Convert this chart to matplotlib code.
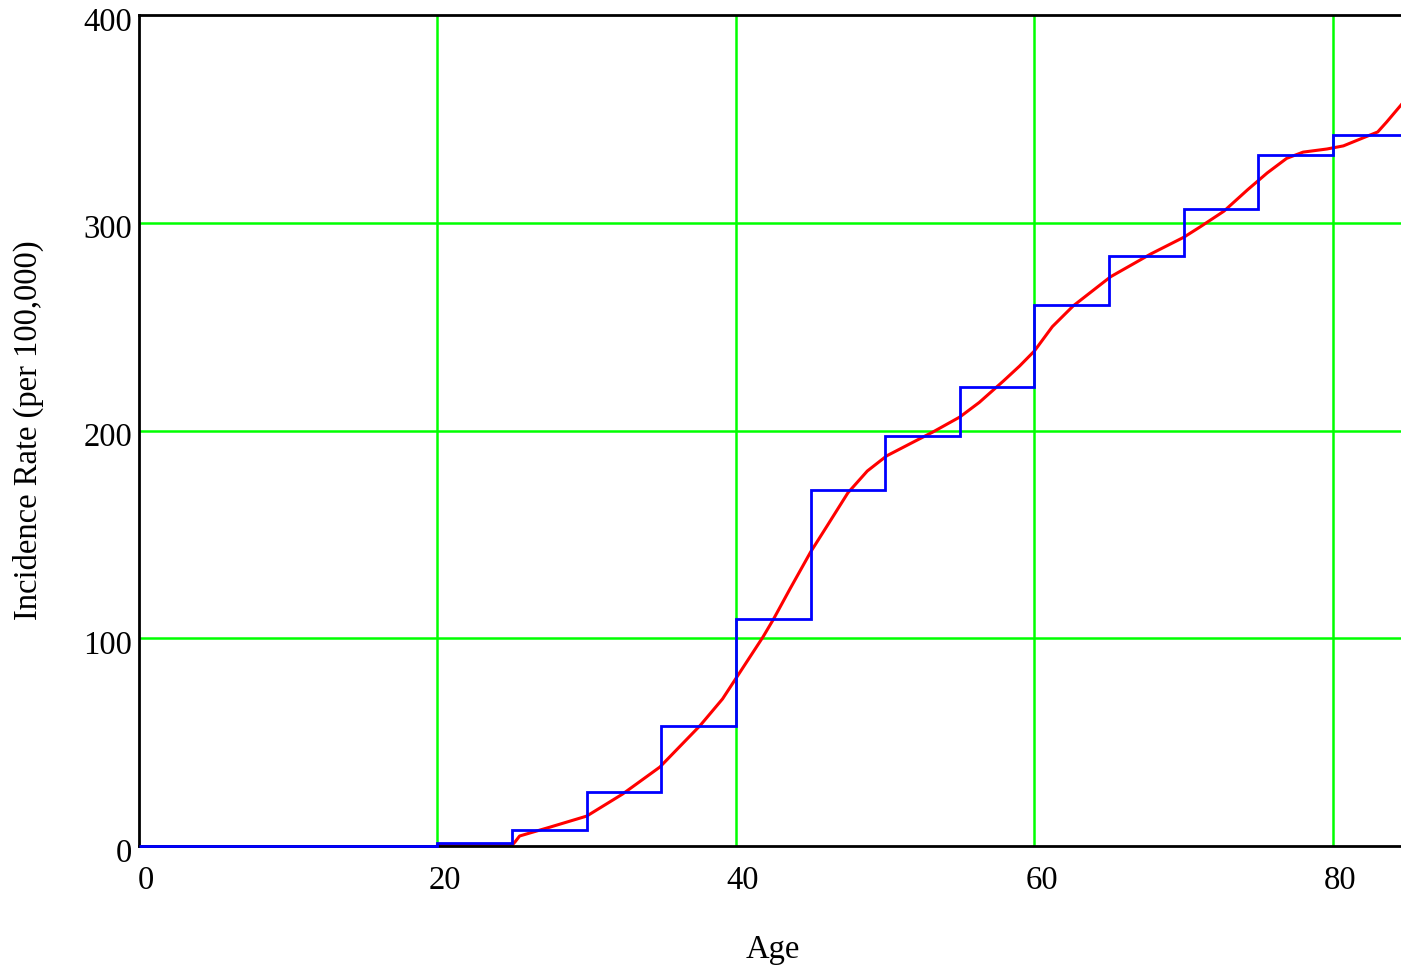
import matplotlib
matplotlib.use("Agg")
import matplotlib.pyplot as plt
import matplotlib.transforms as mtransforms

# Data
blue_edges = [0, 20, 25, 30, 35, 40, 45, 50, 55, 60, 65, 70, 75, 80, 85]
blue_vals = [0, 1.3, 7.7, 26.1, 57.9, 109.3, 171.4, 197.2, 220.8, 260.4, 284.2, 306.6, 332.8, 342.2]

red_age = [20, 25, 25.2, 25.5, 26.4, 27.5, 30, 32.4, 34.9, 37.6, 39.1, 40.1, 41.8, 42.5,
           43.6, 45, 46.1, 47.5, 48.8, 50.1, 51.9, 53.2, 55, 56.3, 57.9, 59, 60, 61.2, 62.6,
           65.1, 67.8, 70, 71.1, 72.7, 74.3, 75.6, 76.9, 78, 79.6, 80.7, 82, 83, 83.6, 84.6]
red_val = [0.4, 0.4, 2, 4.8, 6.7, 9, 14.4, 25, 38, 58, 70.8, 81.8, 100.5, 109,
           123.5, 141.5, 154, 170, 180.5, 187.8, 194.5, 199.3, 206.5, 213.5, 223.7, 231, 238.3, 250, 260,
           274, 285, 293, 298, 305.6, 316, 324, 331, 334, 335.5, 337, 340.8, 343.7, 348.5, 357]

x_ticks = [0, 20, 40, 60, 80]
y_ticks = [0, 100, 200, 300, 400]

W, H = 1401, 970
fig = plt.figure(figsize=(W / 100, H / 100), dpi=100)
ax = fig.add_axes([139 / W, (H - 847) / H, (W - 139) / W, (847 - 16) / H])

ax.set_xlim(0, 84.56)
ax.set_ylim(0, 400)

for gx in [20, 40, 60, 80]:
    ax.axvline(gx, color="#00ff00", lw=1.8, zorder=1)
for gy in [100, 200, 300]:
    ax.axhline(gy, color="#00ff00", lw=1.8, zorder=1)

ax.plot(red_age, red_val, color="#ff0000", lw=2.2, zorder=2, clip_on=False)
st = ax.stairs(blue_vals, blue_edges, baseline=None, color="#0000ff", lw=2.0, zorder=3)
st.set_clip_on(False)
ax.set_xlim(0, 84.56)

for s in ["left", "top", "bottom"]:
    ax.spines[s].set_color("black")
    ax.spines[s].set_linewidth(2.0)
ax.spines["right"].set_visible(False)

font = "Liberation Serif"
fs = 23.5
ax.set_xticks(x_ticks)
ax.set_yticks(y_ticks)
ax.set_xticklabels([str(v) for v in x_ticks], fontfamily=font, fontsize=fs)
ax.set_yticklabels([str(v) for v in y_ticks], fontfamily=font, fontsize=fs)
ax.tick_params(axis="both", length=0)
ax.tick_params(axis="x", pad=13)
ax.tick_params(axis="y", pad=5)

offx = mtransforms.ScaledTranslation(7 / 100, 0, fig.dpi_scale_trans)
for lab in ax.get_xticklabels():
    lab.set_transform(lab.get_transform() + offx)
offy = mtransforms.ScaledTranslation(0, -3 / 100, fig.dpi_scale_trans)
for lab in ax.get_yticklabels():
    lab.set_transform(lab.get_transform() + offy)

fig.text(773 / W, 1 - 950 / H, "Age", fontfamily=font, fontsize=fs,
         ha="center", va="center")
fig.text(28 / W, 1 - 430 / H, "Incidence Rate (per 100,000)", fontfamily=font,
         fontsize=fs, ha="center", va="center", rotation=90)

fig.savefig("out.png", dpi=100)
